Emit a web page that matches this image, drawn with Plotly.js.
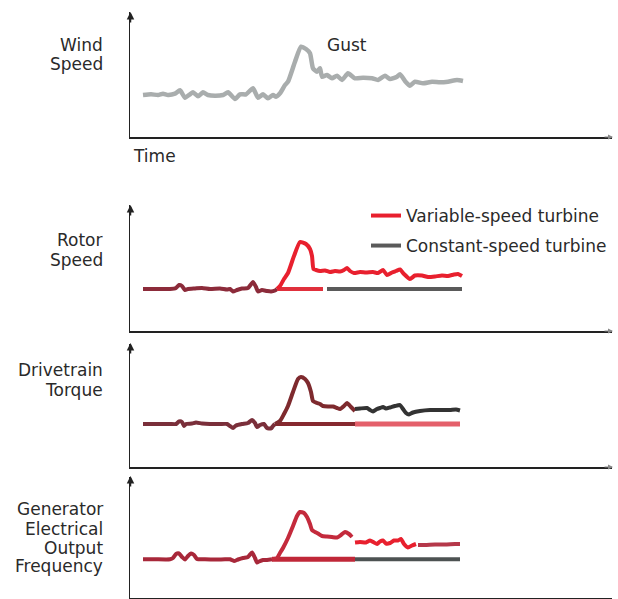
<!DOCTYPE html>
<html>
<head>
<meta charset="utf-8">
<script src="https://cdn.plot.ly/plotly-3.0.1.min.js"></script>
<style>html,body{margin:0;padding:0;background:#fff;}#chart{width:618px;height:599px;}</style>
</head>
<body>
<div id="chart"></div>
<script>
// ---- Data (time in arbitrary units, values in arbitrary units) ----
// Panel 1: wind speed
const windT = [13,21,28,33,38,45,50,55,60,63,68,73,78,85,93,98,105,110,116,123,128,133,138,143,146,150,155,158,165,171,176,180,183,187,190,192,197,202,207,212,218,225,233,242,248,255,260,267,270,275,280,285,293,302,310,318,327,333];
const windV = [42,42.7,42,43.3,42,43.3,46.7,39.3,42.7,44.7,40.7,44.7,42,41.3,42,44.7,38,42.7,42.7,48.7,39.3,42.7,38.7,42,40.3,43.7,52,55.3,75.3,90.3,88,83.7,68.7,65.3,68.7,60.3,62,58.7,61.3,57,63.7,58.7,59.3,58.7,57,61.3,58,60.3,62.7,56,51.3,55.3,53.7,55.3,54.7,55.3,57,56];

// Panel 2: rotor speed
const rotorPreT = [13,20,30,40,46,49,52,55,58,65,72,80,90,97,100,103,107,112,118,123,126,128,132,137,141,145,147];
const rotorPreV = [42,42,42,42,43,46,45,41,42,42.5,43,42,42.5,41.5,42,39.5,41,42.5,43,49,44,39.5,41,40,39.5,40.5,42];
const rotorVarT = [147,150,154,158,164,170,176,180,182,183.5,186,190,195,200,205,210,214,217,220,224,230,236,243,248,253,257,262,266,270,274,280,285,292,298,305,312,318,324,328,332];
const rotorVarV = [42,45,52,58,75,89,87,82,75,62,61,60,60.5,59,60,59.5,61,63,60,58,59,58.5,59,58,61,56,58.5,60,61.5,57,52,55.5,55.5,54,54.5,55.5,55,56.5,57,55];
const rotorConstAT = [147,193];
const rotorConstAV = [42,42];
const rotorConstBT = [197,332];
const rotorConstBV = [42,42];

// Panel 3: drivetrain torque
const torquePreT = [13,20,30,40,46,49,52,54,56,62,66,72,80,90,97,100,103,106,112,118,122,125,127,130,134,137,141,143,145];
const torquePreV = [43,43,43,43,43,45.5,45,41,43,43.5,44.5,43.5,43,43,43,41,39,41.5,43,44,47,44,40,42,43,39,38.5,41,43];
const torqueVarT = [145,150,154,158,163,168,171,175,178,181,183,187,190,193,198,203,207,210,214,217,221,225];
const torqueVarV = [43,46,53,61,75,88,90,88,84,75,66,64,63,61,60.5,60.5,59,58,61,64,60,56];
const torqueTailT = [225,230,237,240,243,247,250,253,256,260,265,270,273,276,279,283,290,300,310,320,326,330];
const torqueTailV = [58,58.5,59,57,55.5,58,59,60,58.5,59.5,61,62,58,54,52.5,54.5,56,57,57,57,57.5,56.5];
const torqueFlatAT = [145,225];
const torqueFlatAV = [43,43];
const torqueFlatBT = [225,330];
const torqueFlatBV = [43,43];

// Panel 4: generator electrical output frequency
const freqPreT = [13,25,40,43,46,49,52,55,58,61,64,67,75,85,95,100,104,108,113,118,122,125,127,129,133,137,142];
const freqPreV = [38.7,38.7,38.7,40,44,44.5,41,38.5,42,44.5,43,39,38.7,38.5,38.7,38.7,37,38.5,40,41,45.5,40,35.5,36.5,38,38,38.7];
const freqVarT = [142,147,150,153,158,163,167,170,174,177,180,182,185,188,192,197,202,207,211,215,219,222];
const freqVarV = [38.7,40,45,50,60,72,82,86,85,81,74,68,66,64.5,62,61.5,61,60.5,63,66,64,61];
const freqNoisyT = [225,230,236,240,244,247,250,253,256,260,264,268,271,274,278,282,286];
const freqNoisyV = [55.5,56,55.5,57.5,55.5,54,56.5,57.5,54.5,55,57.5,57.5,59,54,50.5,52.5,54];
const freqTailT = [288,295,305,315,325,330];
const freqTailV = [53,53,53.5,53.5,54,54];
const freqFlatAT = [142,225];
const freqFlatAV = [38.7,38.7];
const freqFlatBT = [225,330];
const freqFlatBV = [38.7,38.7];

// ---- Layout helpers (pixel -> paper) ----
const W = 618, H = 599;
const px = x => x / W;
const py = y => 1 - y / H;

function line(x, y, axis, color, width, extra) {
  return Object.assign({
    type: 'scatter', mode: 'lines', x: x, y: y,
    xaxis: 'x' + axis, yaxis: 'y' + axis,
    line: {color: color, width: width, shape: 'spline', smoothing: 0.5},
    showlegend: false, hoverinfo: 'skip'
  }, extra || {});
}

const data = [
  line(windT, windV, '', '#a9adad', 4.5),

  line(rotorPreT, rotorPreV, '2', '#8c2b3a', 4),
  line(rotorConstAT, rotorConstAV, '2', '#e0303c', 4),
  line(rotorConstBT, rotorConstBV, '2', '#5a5a5a', 4, {showlegend: true, name: 'Constant-speed turbine', legend: 'legend2'}),
  line(rotorVarT, rotorVarV, '2', '#e8202e', 4, {showlegend: true, name: 'Variable-speed turbine', legend: 'legend'}),

  line(torquePreT, torquePreV, '3', '#7a2f3a', 4),
  line(torqueFlatAT, torqueFlatAV, '3', '#86292f', 4),
  line(torqueFlatBT, torqueFlatBV, '3', '#e4606b', 5),
  line(torqueVarT, torqueVarV, '3', '#7e2a2e', 4),
  line(torqueTailT, torqueTailV, '3', '#333333', 4),

  line(freqPreT, freqPreV, '4', '#a8283a', 4),
  line(freqFlatAT, freqFlatAV, '4', '#c02838', 5),
  line(freqFlatBT, freqFlatBV, '4', '#4d5252', 4),
  line(freqVarT, freqVarV, '4', '#c42a3c', 4),
  line(freqNoisyT, freqNoisyV, '4', '#e8202e', 4),
  line(freqTailT, freqTailV, '4', '#b5384a', 4)
];

function xax(anchor) {
  return {domain: [px(130), px(612)], range: [0, 482], anchor: anchor,
    showline: true, linecolor: '#222', linewidth: 1.5, showgrid: false,
    zeroline: false, showticklabels: false, ticks: '', fixedrange: true};
}
function yax(anchor, top, bottom) {
  return {domain: [py(bottom), py(top)], range: [0, bottom - top], anchor: anchor,
    showline: true, linecolor: '#222', linewidth: 1.5, showgrid: false,
    zeroline: false, showticklabels: false, ticks: '', fixedrange: true};
}

const labelFont = {family: 'DejaVu Sans', size: 17, color: '#2a2a2a'};
function label(text, yPix) {
  return {xref: 'paper', yref: 'paper', x: px(105), y: py(yPix), xanchor: 'right', yanchor: 'middle',
    text: text, showarrow: false, font: labelFont};
}
function arrowUp(xPix, yPix) {
  return {xref: 'paper', yref: 'paper', x: px(xPix), y: py(yPix), ax: 0, ay: 12, text: '',
    showarrow: true, arrowhead: 2, arrowsize: 1, arrowwidth: 1.5, arrowcolor: '#222'};
}
function arrowRight(xPix, yPix) {
  return {xref: 'paper', yref: 'paper', x: px(xPix), y: py(yPix), ax: -10, ay: 0, text: '',
    showarrow: true, arrowhead: 2, arrowsize: 1, arrowwidth: 1, arrowcolor: '#888'};
}

const layout = {
  width: W, height: H,
  margin: {l: 0, r: 0, t: 0, b: 0},
  paper_bgcolor: '#fff', plot_bgcolor: 'rgba(0,0,0,0)',
  font: labelFont,
  xaxis: xax('y'), yaxis: yax('x', 12, 137),
  xaxis2: xax('y2'), yaxis2: yax('x2', 205, 331),
  xaxis3: xax('y3'), yaxis3: yax('x3', 344, 467),
  xaxis4: xax('y4'), yaxis4: yax('x4', 477, 598),
  legend: {x: px(366), y: py(216), xanchor: 'left', yanchor: 'middle', bgcolor: 'rgba(0,0,0,0)',
    font: labelFont, itemwidth: 30},
  legend2: {x: px(366), y: py(246), xanchor: 'left', yanchor: 'middle', bgcolor: 'rgba(0,0,0,0)',
    font: labelFont, itemwidth: 30},
  annotations: [
    label('Wind', 45), label('Speed', 64),
    label('Rotor', 240), label('Speed', 259.5),
    label('Drivetrain', 370), label('Torque', 390.5),
    label('Generator', 509.3), label('Electrical', 528.7), label('Output', 547.7), label('Frequency', 566.3),
    {xref: 'paper', yref: 'paper', x: px(131), y: py(156), xanchor: 'left', yanchor: 'middle',
      text: 'Time', showarrow: false, font: labelFont},
    {xref: 'paper', yref: 'paper', x: px(347), y: py(45), xanchor: 'center', yanchor: 'middle',
      text: 'Gust', showarrow: false, font: labelFont},
    arrowUp(130.5, 12), arrowUp(130.5, 205), arrowUp(130.5, 343), arrowUp(130.5, 476),
    arrowRight(613, 137), arrowRight(613, 331), arrowRight(613, 467)
  ]
};

Plotly.newPlot('chart', data, layout, {displayModeBar: false, staticPlot: true});
</script>
</body>
</html>
